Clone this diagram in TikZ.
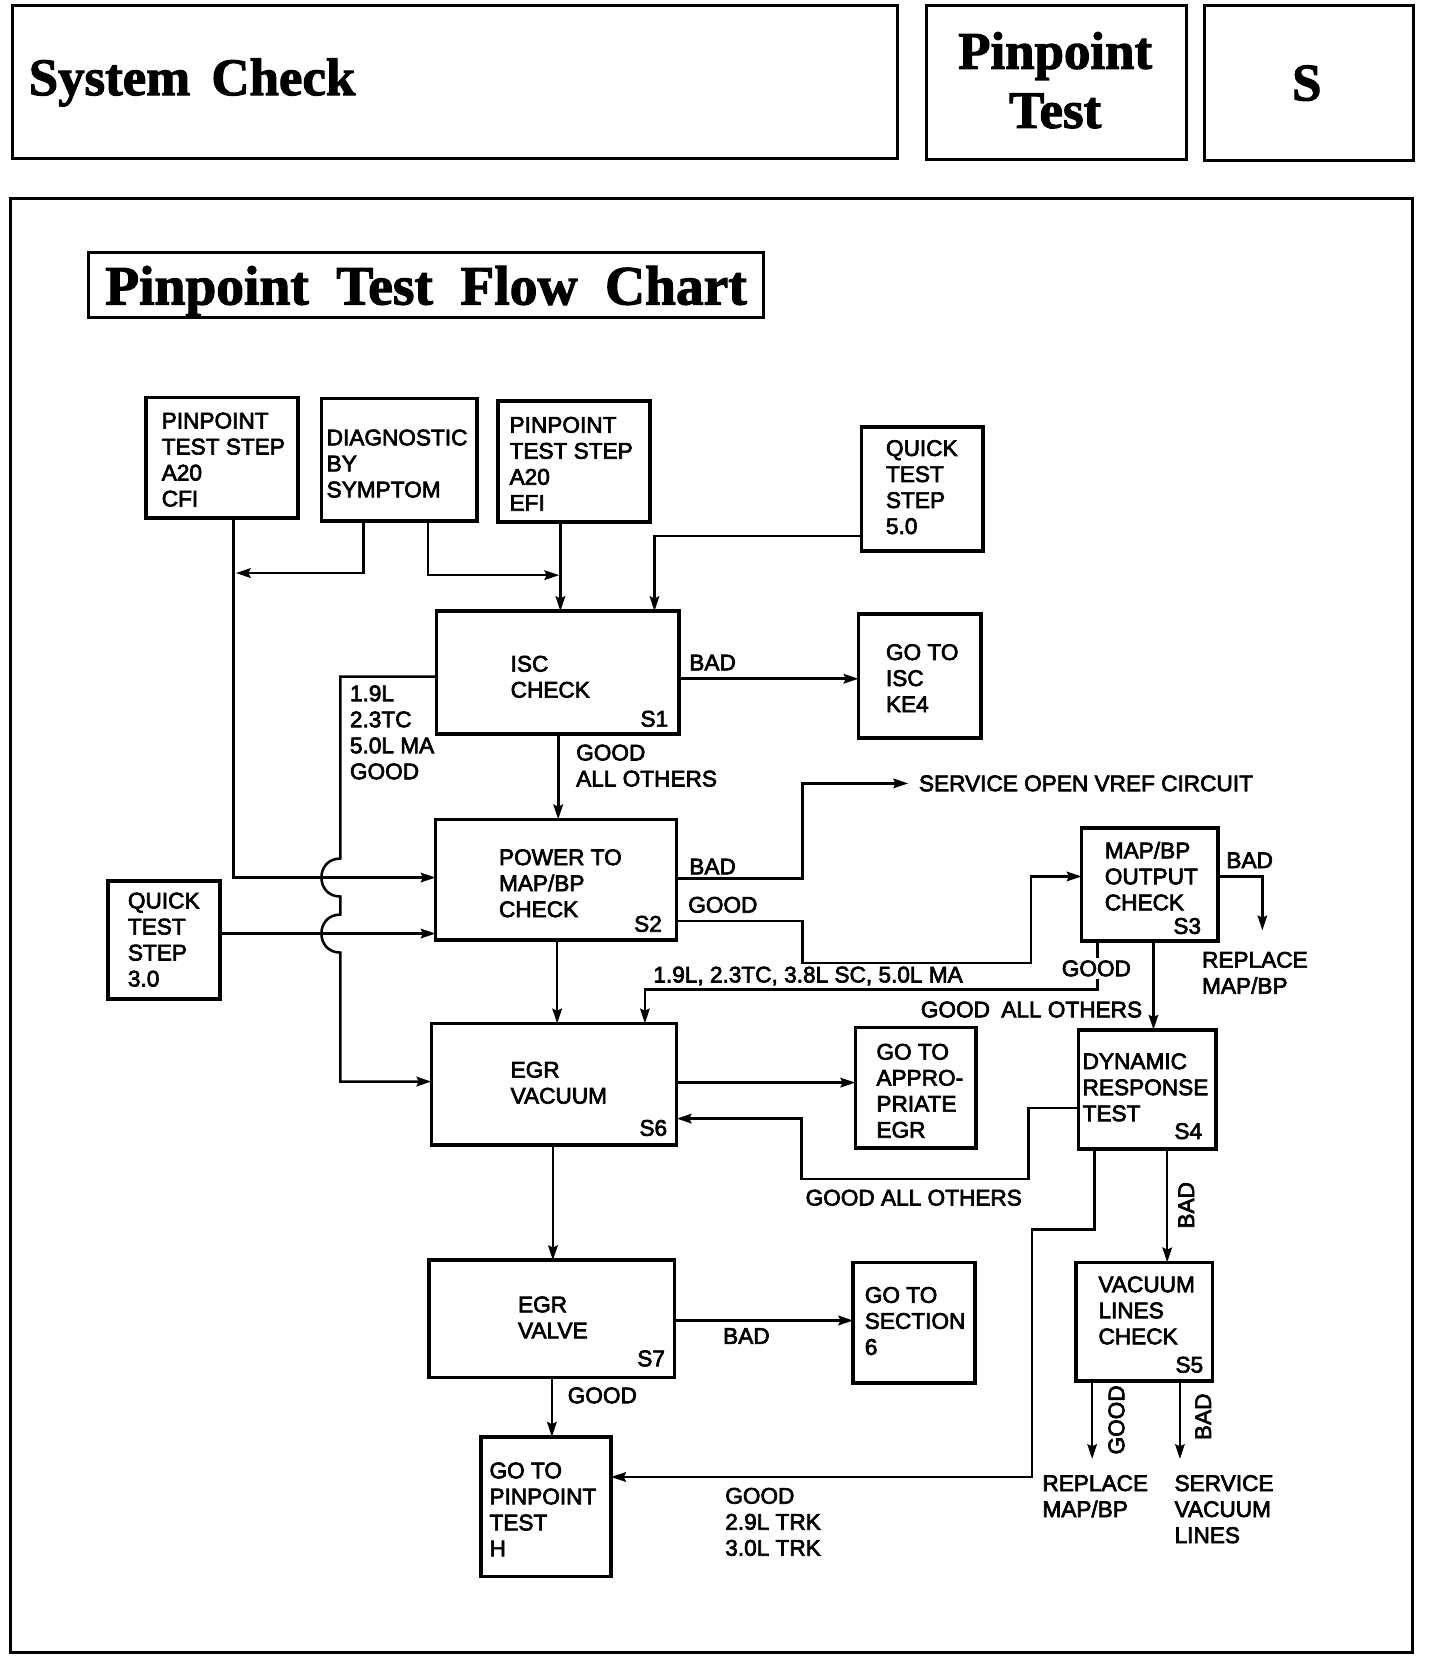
\documentclass[tikz,border=0pt]{standalone}
\usepackage{fontspec}
\setmainfont{Liberation Sans}
\newfontfamily\dfont{Liberation Sans}[FakeBold=3]
\newfontfamily\hfont{Liberation Serif}[FakeBold=2]
\usetikzlibrary{arrows.meta}
\newcommand\fs{\dfont\fontsize{21.4}{24.6}\selectfont}
\newcommand\bx[5]{\node[bx, minimum width={(#4)-(#2)}, minimum height={(#5)-(#3)}] (#1) at ({((#2)+(#4))/2},{((#3)+(#5))/2}) {};}
\newcommand\tx[4]{\node[txt] (#1) at (#2,{(#3)-7.7}) {#4};}
\newcommand\rtx[4]{\node[rtxt] (#1) at (#2,{(#3)-7.7}) {#4};}
\begin{document}
\begin{tikzpicture}[x=1pt,y=-1pt,
  bx/.style={draw, line width=3.4pt, inner sep=0pt, outer sep=0pt},
  frm/.style={draw, line width=2.8pt, inner sep=0pt, outer sep=0pt},
  ln/.style={line width=2.4pt},
  ar/.style={ln, -{Stealth[length=14pt,width=9pt,inset=2pt]}},
  txt/.style={anchor=north west, inner sep=0pt, outer sep=0pt, align=left, font=\fs},
  rtxt/.style={anchor=north east, inner sep=0pt, outer sep=0pt, font=\fs},
  vt/.style={rotate=90, inner sep=0pt, font=\fs},
  hd/.style={inner sep=0pt, font=\hfont\bfseries\fontsize{50}{50}\selectfont},
]
\useasboundingbox (0,0) rectangle (1362,1572);

% ---------- header ----------
\node[frm, minimum width=837, minimum height=145] (hdr1) at (430.5,77.5) {};
\node[hd, anchor=base west] (hdrt) at (27,90) {System\hspace{20pt}Check};
\node[frm, minimum width=246, minimum height=146] (hdr2) at (999,78) {};
\node[hd, anchor=base] (hdp1) at (998,65) {Pinpoint};
\node[hd, anchor=base] (hdp2) at (998,121) {Test};
\node[frm, minimum width=198, minimum height=147] (hdr3) at (1238,78.5) {};
\node[hd, anchor=base] (hds) at (1236,95) {S};

% ---------- frame and title ----------
\node[frm, minimum width=1326, minimum height=1375] (frame) at (673,875.5) {};
\node[frm, minimum width=638, minimum height=61] (ttlbox) at (403,269.5) {};
\node[hd, anchor=base, font=\hfont\bfseries\fontsize{52.5}{52.5}\selectfont] (ttl) at (403,288) {Pinpoint\hspace{26pt}Test\hspace{26pt}Flow\hspace{26pt}Chart};

% ---------- boxes ----------
\bx{b1}{138}{376}{282}{490}
\bx{b2}{304}{377}{451}{493}
\bx{b3}{471}{379}{615}{494}
\bx{b4}{815}{404}{930}{521}
\bx{s1}{413}{578}{642}{694}
\bx{ke4}{812}{581}{928}{698}
\bx{s2}{412}{775}{640}{889}
\bx{qt3}{102}{833}{208}{945}
\bx{s3}{1023}{783}{1152}{890}
\bx{s6}{408}{968}{640}{1083}
\bx{egr}{809}{972}{923}{1086}
\bx{s4}{1020}{974}{1150}{1087}
\bx{s7}{406}{1192}{638}{1303}
\bx{sec6}{807}{1194}{922}{1308}
\bx{s5}{1018}{1194}{1147}{1306}
\bx{h}{455}{1359}{578}{1491}

% ---------- box texts ----------
\tx{tb1}{153}{398}{PINPOINT\\TEST STEP\\A20\\CFI}
\tx{tb2}{309}{414}{DIAGNOSTIC\\BY\\SYMPTOM}
\tx{tb3}{482}{402}{PINPOINT\\TEST STEP\\A20\\EFI}
\tx{tb4}{838}{424}{QUICK\\TEST\\STEP\\5.0}
\tx{ts1}{483}{628}{ISC\\CHECK}
\rtx{ns1}{632}{680}{S1}
\tx{tke4}{838}{617}{GO TO\\ISC\\KE4}
\tx{ts2}{472}{811}{POWER TO\\MAP/BP\\CHECK}
\rtx{ns2}{626}{874}{S2}
\tx{tqt3}{121}{852}{QUICK\\TEST\\STEP\\3.0}
\tx{ts3}{1045}{804}{MAP/BP\\OUTPUT\\CHECK}
\rtx{ns3}{1136}{876}{S3}
\tx{ts6}{483}{1012}{EGR\\VACUUM}
\rtx{ns6}{631}{1067}{S6}
\tx{tegr}{829}{995}{GO TO\\APPRO-\\PRIATE\\EGR}
\tx{ts4}{1024}{1004}{DYNAMIC\\RESPONSE\\TEST}
\rtx{ns4}{1137}{1070}{S4}
\tx{ts7}{490}{1234}{EGR\\VALVE}
\rtx{ns7}{629}{1285}{S7}
\tx{tsec6}{818}{1225}{GO TO\\SECTION\\6}
\tx{ts5}{1039}{1215}{VACUUM\\LINES\\CHECK}
\rtx{ns5}{1138}{1291}{S5}
\tx{th}{463}{1391}{GO TO\\PINPOINT\\TEST\\H}

% ---------- free texts / labels ----------
\node[anchor=west, inner sep=0pt, font=\fs] (vref) at (869,741) {SERVICE OPEN VREF CIRCUIT};
\tx{l1}{652}{627}{BAD}
\tx{l2}{331}{656}{1.9L\\2.3TC\\5.0L MA\\GOOD}
\tx{l3}{545}{712}{GOOD\\ALL OTHERS}
\tx{l4}{652}{820}{BAD}
\tx{l5}{651}{856}{GOOD}
\tx{l6}{1160}{814}{BAD}
\tx{l7}{1137}{908}{REPLACE\\MAP/BP}
\tx{l8}{618}{922}{1.9L, 2.3TC, 3.8L SC, 5.0L MA}
\tx{l9}{871}{955}{GOOD\hspace{0.5em}ALL OTHERS}
\tx{l10}{762}{1133}{GOOD ALL OTHERS}
\tx{l11}{684}{1264}{BAD}
\tx{l12}{537}{1320}{GOOD}
\tx{l13}{686}{1415}{GOOD\\2.9L TRK\\3.0L TRK}
\node[vt] (l14) at (1122,1140) {BAD};
\node[vt] (l15) at (1056,1343) {GOOD};
\node[vt] (l16) at (1138,1340) {BAD};
\tx{l17}{986}{1403}{REPLACE\\MAP/BP}
\tx{l18}{1111}{1403}{SERVICE\\VACUUM\\LINES}

% ---------- connectors ----------
\coordinate (rmapA) at (1194,880);
\coordinate (e1) at (1033,1380);
\coordinate (e2) at (1116,1380);

\draw[ar] (b1.south -| 221,0) -- (221,830) -- (s2.west |- 0,830);
\draw[ar] (qt3.east |- 0,883) -- (s2.west |- 0,883);
\draw[ar] (s1.west |- 0,640) -- (322,640) -- (322,812)
   .. controls (298,812) and (298,848) .. (322,848) -- (322,865)
   .. controls (298,865) and (298,901) .. (322,901) -- (322,1023) -- (s6.west |- 0,1023);
\draw[ar] (b2.south -| 344,0) -- (344,542) -- (223,542);
\draw[ar] (b2.south -| 405,0) -- (405,544) -- (529,544);
\draw[ar] (b3.south -| 530,0) -- (s1.north -| 530,0);
\draw[ar] (b4.west |- 0,507) -- (619,507) -- (s1.north -| 619,0);
\draw[ar] (s1.east |- 0,642) -- (ke4.west |- 0,642);
\draw[ar] (s1.south -| 528,0) -- (s2.north -| 528,0);
\draw[ar, shorten >=10pt] (s2.east |- 0,831) -- (759,831) -- (759,741) -- (vref.west);
\draw[ar] (s2.east |- 0,871) -- (759,871) -- (759,911) -- (975,911) -- (975,829) -- (s3.west |- 0,829);
\draw[ar] (s2.south -| 527,0) -- (s6.north -| 527,0);
\draw[ar] (s3.south -| 1038,0) -- (1038,936) -- (610,936) -- (s6.north -| 610,0);
\draw[ar] (s3.south -| 1091,0) -- (s4.north -| 1091,0);
\draw[ar] (s3.east |- 0,829) -- (1194,829) -- (rmapA);
\draw[ar] (s6.east |- 0,1024) -- (egr.west |- 0,1024);
\draw[ar] (s4.west |- 0,1048) -- (973,1048) -- (973,1115) -- (758,1115) -- (758,1058) -- (s6.east |- 0,1058);
\draw[ar] (s6.south -| 523,0) -- (s7.north -| 523,0);
\draw[ar] (s7.east |- 0,1249) -- (sec6.west |- 0,1249);
\draw[ar] (s7.south -| 522,0) -- (h.north -| 522,0);
\draw[ar] (s4.south -| 1035,0) -- (1035,1163) -- (976,1163) -- (976,1397) -- (h.east |- 0,1397);
\draw[ar] (s4.south -| 1104,0) -- (s5.north -| 1104,0);
\draw[ar] (s5.south -| 1033,0) -- (e1);
\draw[ar] (s5.south -| 1116,0) -- (e2);

% label over the S3 GOOD line
\node[fill=white, inner sep=2pt, font=\fs] (l19) at (1037,916) {GOOD};
\end{tikzpicture}
\end{document}
